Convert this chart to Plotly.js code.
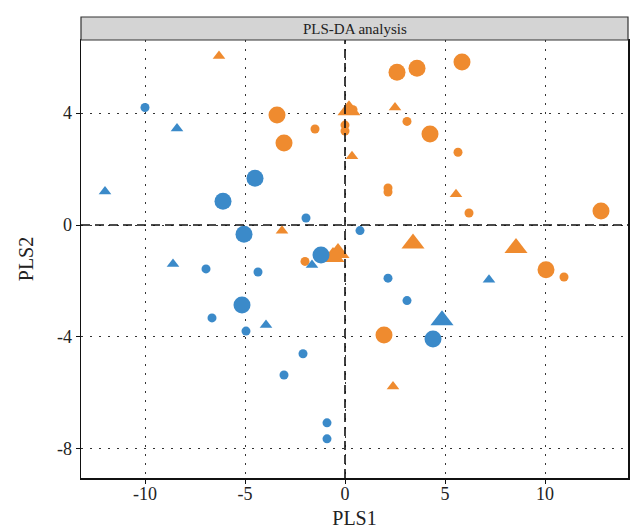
<!DOCTYPE html>
<html>
<head>
<meta charset="utf-8">
<script src="https://cdn.plot.ly/plotly-3.0.1.min.js"></script>
<style>html,body{margin:0;padding:0;background:#fff;}#chart{width:641px;height:529px;}</style>
</head>
<body>
<div id="chart"></div>
<script>
// Orange group
const orangeLargeCircleX = [2.6, 3.6, 5.85, -3.4, 4.25, -3.05, 12.8, 10.05, 1.95];
const orangeLargeCircleY = [5.46, 5.6, 5.82, 3.93, 3.25, 2.93, 0.5, -1.6, -3.93];
const orangeSmallCircleX = [0.4, -1.5, 0.0, 0.0, 3.1, 5.65, 2.15, 2.15, 6.2, -2.0, 10.95];
const orangeSmallCircleY = [4.12, 3.43, 3.57, 3.36, 3.7, 2.6, 1.32, 1.18, 0.43, -1.3, -1.86];
const orangeSmallTriX = [-6.3, 2.5, 0.35, 5.55, -3.15, 2.4];
const orangeSmallTriY = [6.04, 4.2, 2.46, 1.1, -0.21, -5.77];
const orangeLargeTriX = [0.2, -0.6, -0.35, 3.4, 8.55];
const orangeLargeTriY = [4.1, -1.14, -1.0, -0.66, -0.82];
// Blue group
const blueSmallCircleX = [-10, -1.95, 0.75, -6.95, -4.35, 2.15, 3.1, -6.65, -4.95, -2.1, -3.05, -0.9, -0.9];
const blueSmallCircleY = [4.2, 0.25, -0.2, -1.57, -1.68, -1.9, -2.7, -3.32, -3.79, -4.6, -5.36, -7.07, -7.64];
const blueLargeCircleX = [-4.5, -6.1, -5.05, -1.2, -5.15, 4.4];
const blueLargeCircleY = [1.67, 0.85, -0.33, -1.07, -2.86, -4.07];
const blueSmallTriX = [-8.4, -12, -1.65, -8.6, 7.2, -3.95];
const blueSmallTriY = [3.45, 1.2, -1.43, -1.39, -1.96, -3.57];
const blueLargeTriX = [4.85];
const blueLargeTriY = [-3.4];

const xTicks = [-10, -5, 0, 5, 10];
const yTicks = [-8, -4, 0, 4];
const stripTitle = "PLS-DA analysis";

const ORANGE = "#EF8B2F";
const BLUE = "#3B8AC9";
const SC = 9, LC = 17, ST = 11, LT = 20;

function tr(x, y, color, symbol, size) {
  return {x: x, y: y, type: "scatter", mode: "markers",
    marker: {color: color, symbol: symbol, size: size, line: {width: 0}},
    hoverinfo: "x+y", showlegend: false};
}

const data = [
  tr(orangeLargeCircleX, orangeLargeCircleY, ORANGE, "circle", LC),
  tr(orangeSmallCircleX, orangeSmallCircleY, ORANGE, "circle", SC),
  tr(orangeSmallTriX, orangeSmallTriY, ORANGE, "triangle-up", ST),
  tr(orangeLargeTriX, orangeLargeTriY, ORANGE, "triangle-up", LT),
  tr(blueSmallCircleX, blueSmallCircleY, BLUE, "circle", SC),
  tr(blueLargeCircleX, blueLargeCircleY, BLUE, "circle", LC),
  tr(blueSmallTriX, blueSmallTriY, BLUE, "triangle-up", ST),
  tr(blueLargeTriX, blueLargeTriY, BLUE, "triangle-up", LT)
];

const plotTop = 40, plotBottom = 478;
const stripH = 23;
const stripTopPaper = 1 + stripH / (plotBottom - plotTop);

const tickFont = {family: "Liberation Serif, Times New Roman, serif", size: 18, color: "#222"};

const layout = {
  width: 641, height: 529,
  margin: {l: 81, r: 13, t: 40, b: 51, pad: 0},
  paper_bgcolor: "#fff", plot_bgcolor: "#fff",
  showlegend: false,
  xaxis: {
    range: [-13.2, 14.15], tickvals: xTicks, ticktext: xTicks.map(String),
    showgrid: true, gridcolor: "#333", gridwidth: 1, griddash: "2px,7px",
    zeroline: false, showline: true, linecolor: "#111", linewidth: 1.5, mirror: true,
    ticks: "outside", ticklen: 4, tickcolor: "#111", tickwidth: 1,
    ticklabelstandoff: -5,
    tickfont: tickFont,
    title: {text: "PLS1", font: {family: "Liberation Serif, serif", size: 20, color: "#222"}, standoff: 16}
  },
  yaxis: {
    range: [-9.04, 6.61], tickvals: yTicks, ticktext: yTicks.map(String),
    showgrid: true, gridcolor: "#333", gridwidth: 1, griddash: "2px,7px",
    zeroline: false, showline: true, linecolor: "#111", linewidth: 1.5, mirror: true,
    ticks: "outside", ticklen: 4, tickcolor: "#111", tickwidth: 1,
    tickfont: tickFont,
    title: {text: "PLS2", font: {family: "Liberation Serif, serif", size: 20, color: "#222"}, standoff: 18}
  },
  shapes: [
    {type: "line", xref: "x", yref: "paper", x0: 0, x1: 0, y0: 0, y1: 1,
     line: {color: "#111", width: 1.6, dash: "9px,5px"}},
    {type: "line", xref: "paper", yref: "y", x0: 0, x1: 1, y0: 0, y1: 0,
     line: {color: "#111", width: 1.6, dash: "9px,5px"}},
    {type: "rect", xref: "paper", yref: "paper", x0: 0, x1: 1, y0: 1, y1: stripTopPaper,
     fillcolor: "#D4D4D4", line: {color: "#333", width: 1.2}, layer: "above"}
  ],
  annotations: [
    {text: stripTitle, xref: "paper", yref: "paper", x: 0.5, y: (1 + stripTopPaper) / 2,
     xanchor: "center", yanchor: "middle", showarrow: false,
     font: {family: "Liberation Serif, serif", size: 15, color: "#222"}}
  ]
};

Plotly.newPlot("chart", data, layout, {displayModeBar: false, staticPlot: true});
</script>
</body>
</html>
